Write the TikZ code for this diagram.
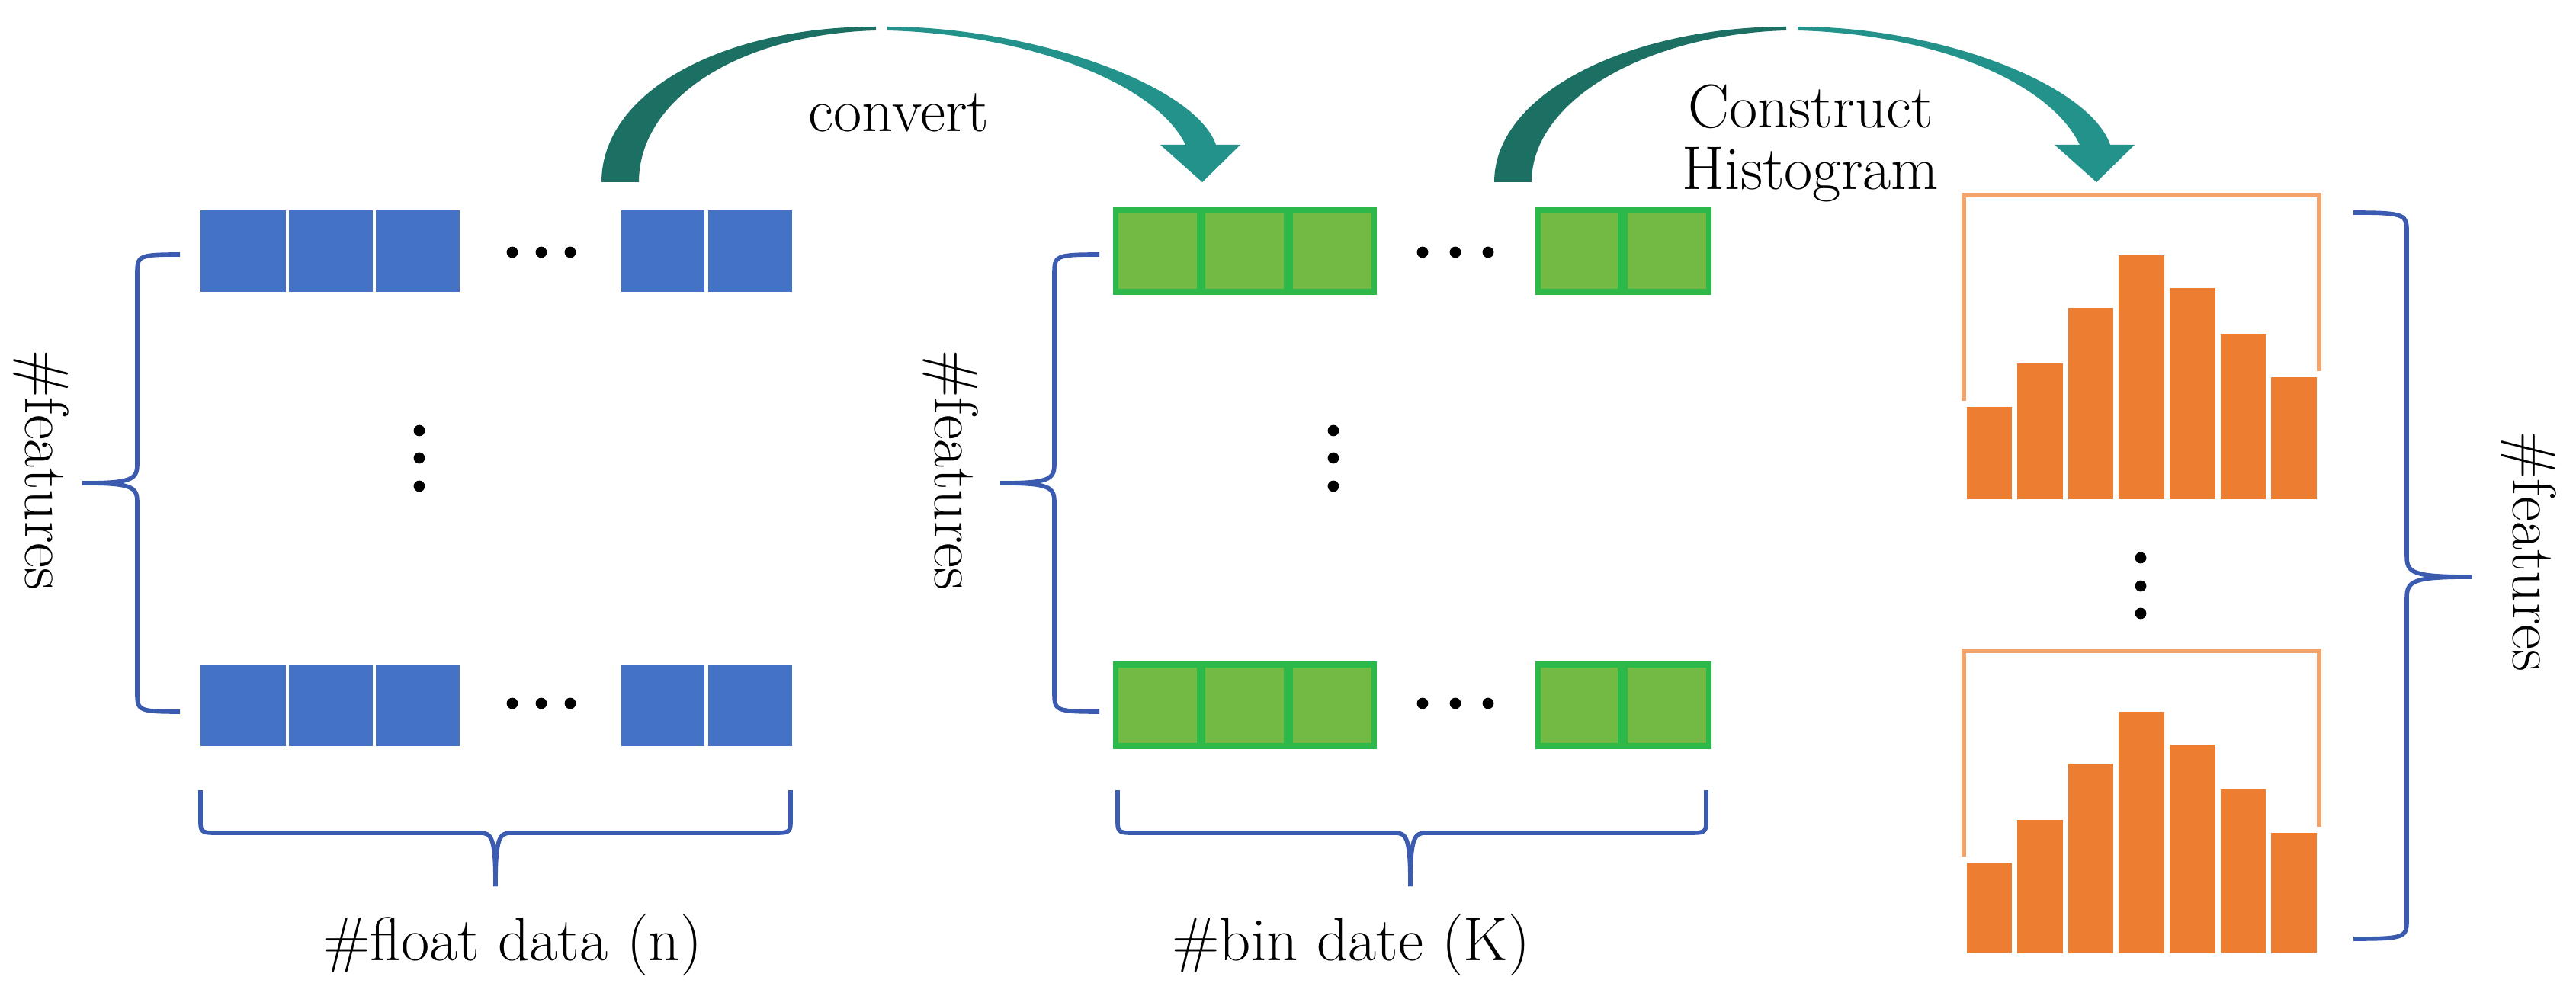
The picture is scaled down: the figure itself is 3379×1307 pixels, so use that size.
\documentclass[tikz,border=0pt]{standalone}
\begin{document}
\begin{tikzpicture}[x=0.01cm,y=-0.01cm,
  green/.style={fill=greenc, draw=greenb, line width=2pt},
  brace/.style={draw=bracec, line width=1.6pt},
  lab/.style={font=\fontsize{23}{27}\selectfont},
  bar/.style={fill=orangec, draw=white, line width=2pt},
  dot/.style={circle, fill=black, inner sep=0pt, minimum size=4.2pt}]
\definecolor{bluec}{HTML}{4472C4}
\definecolor{greenc}{HTML}{72BA43}
\definecolor{greenb}{HTML}{2DB84A}
\definecolor{bracec}{HTML}{3A5BB0}
\definecolor{orangec}{HTML}{ED7D31}
\definecolor{orangeb}{HTML}{F4A46A}
\definecolor{tealA}{HTML}{1C6F63}
\definecolor{tealB}{HTML}{23928A}
\useasboundingbox (0,0) rectangle (3379,1307);
% blue and green rows
\foreach \y in {276,872}{
  \foreach \a/\b in {263/375,379/489,493/603,815/924,929/1039}{
    \fill[bluec] (\a,\y) rectangle (\b,\y+107);
  }
  \foreach \a/\b in {1463/1573,1577/1687,1692/1802,2017/2125,2131/2241}{
    \draw[green] (\a,\y) rectangle (\b,\y+107);
  }
}
% dots
\foreach \x in {672,710,748,1866,1909,1952}{
  \node[dot] at (\x,331) {};
  \node[dot] at (\x,923) {};
}
\foreach \y in {565,601,638}{
  \node[dot] at (550,\y) {};
  \node[dot] at (1749,\y) {};
}
\foreach \y in {732,769,805}{ \node[dot] at (2808,\y) {}; }
% left braces
\foreach \xo/\xv/\xt in {236/180/108,1442/1383/1312}{
  \draw[brace] (\xo,334) .. controls (\xv,334) and (\xv,336) .. (\xv,360) -- (\xv,610)
     .. controls (\xv,630) and (\xv-10,634) .. (\xt,634);
  \draw[brace] (\xt,634) .. controls (\xv-10,634) and (\xv,638) .. (\xv,658) -- (\xv,908)
     .. controls (\xv,932) and (\xv,934) .. (\xo,934);
}
% bottom braces
\foreach \xa/\xb/\xm in {263/1037/650,1466/2238/1850}{
  \draw[brace] (\xa,1037) -- (\xa,1080) .. controls (\xa,1093) and (\xa+5,1093) .. (\xa+20,1093)
     -- (\xm-20,1093) .. controls (\xm-5,1093) and (\xm,1100) .. (\xm,1163);
  \draw[brace] (\xb,1037) -- (\xb,1080) .. controls (\xb,1093) and (\xb-5,1093) .. (\xb-20,1093)
     -- (\xm+20,1093) .. controls (\xm+5,1093) and (\xm,1100) .. (\xm,1163);
}
% right brace
\draw[brace] (3087,279) .. controls (3157,279) and (3157,282) .. (3157,305) -- (3157,730)
   .. controls (3157,752) and (3165,757) .. (3242,757);
\draw[brace] (3242,757) .. controls (3165,757) and (3157,762) .. (3157,785) -- (3157,1205)
   .. controls (3157,1230) and (3157,1232) .. (3087,1232);
% labels
\node[lab, rotate=-90] (f1) at (54,617) {\#features};
\node[lab, rotate=-90] (f2) at (1247,617) {\#features};
\node[lab, rotate=-90] (f3) at (3317,724) {\#features};
\node[lab] (l1) at (672,1240) {\#float data (n)};
\node[lab] (l2) at (1772,1240) {\#bin date (K)};
\node[lab] (c1) at (1179,148) {convert};
\node[lab, align=center] (c2) at (2375,188) {Construct\\[-4pt]Histogram};
% histograms
\foreach \yo/\yb/\tops in {256/659/{530,473,400,331,374,434,491},854/1255/{1128,1072,998,930,973,1032,1089}}{
  \draw[orangeb, line width=1.5pt] (2576,\yo) rectangle (3042,\yb);
  \foreach \t [count=\i] in \tops {
    \pgfmathsetmacro{\xl}{2576+(\i-1)*66.6}
    \path[bar] (\xl,\t) rectangle (\xl+66.6,\yb);
  }
}
% arrows
\foreach \s/\p/\e in {789/1149/1577,1960/2343/2750}{
  \fill[tealA] (\s,239) .. controls (\s,120) and (\p-200,35) .. (\p,35)
     -- (\p,40) .. controls (\p-180,45) and (\s+49,130) .. (\s+49,239) -- cycle;
  \fill[tealB] (\p+15,35) .. controls (\p+200,35) and (\e-10,110) .. (\e+18,190)
     -- (\e+50,190) -- (\e,239) -- (\e-55,190) -- (\e-22,190)
     .. controls (\e-60,110) and (\p+200,45) .. (\p+15,40) -- cycle;
}
\end{tikzpicture}
\end{document}
